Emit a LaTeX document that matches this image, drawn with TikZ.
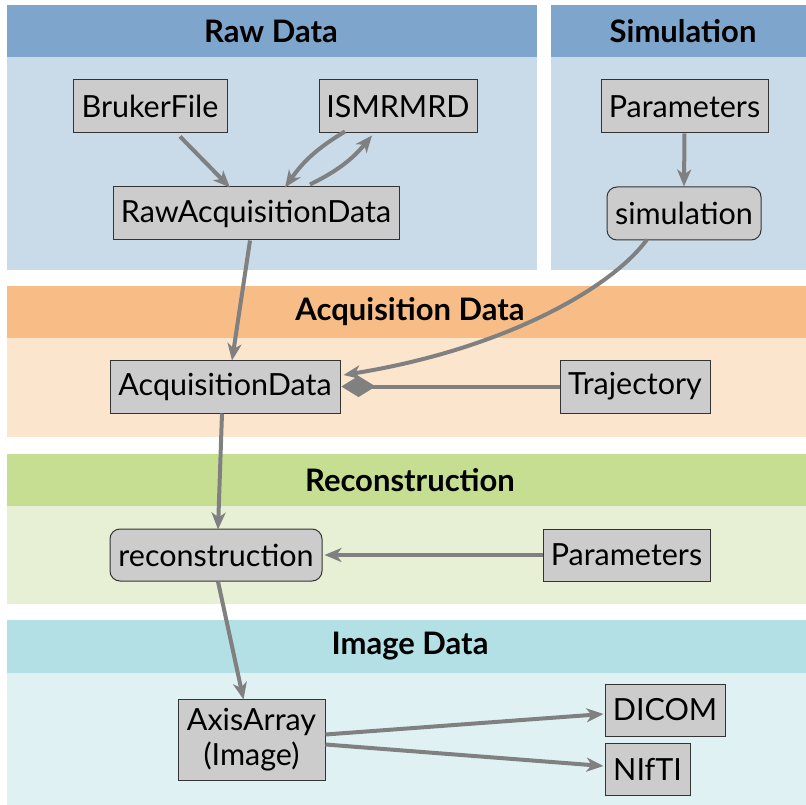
\documentclass[tikz,border=0pt]{standalone}
\usepackage{fontspec}
\setmainfont{Lato}
\usetikzlibrary{arrows.meta,shapes.geometric}
\definecolor{rawH}{HTML}{7EA6CC}
\definecolor{rawB}{HTML}{C9DAE9}
\definecolor{acqH}{HTML}{F8BD86}
\definecolor{acqB}{HTML}{FCE5CD}
\definecolor{recH}{HTML}{C6DE92}
\definecolor{recB}{HTML}{E7F0D4}
\definecolor{imgH}{HTML}{B2E0E5}
\definecolor{imgB}{HTML}{E0F1F4}
\definecolor{nodeF}{HTML}{CCCCCC}
\definecolor{edgeC}{HTML}{808080}
\tikzset{
  box/.style={draw=black!80, fill=nodeF, line width=1pt, inner sep=0pt, font=\fontsize{30.5}{35}\selectfont, align=center},
  rbox/.style={box, rounded corners=10pt},
  htitle/.style={font=\fontsize{31}{36}\selectfont\bfseries},
  conn/.style={draw=edgeC, line width=4pt, -{Stealth[length=17pt,width=14pt,inset=5pt]}},
}
\begin{document}
\begin{tikzpicture}[x=1pt,y=-1pt]
\useasboundingbox (0,0) rectangle (806,805);
% panels
\fill[rawB] (7,5) rectangle (537,270);
\fill[rawH] (7,5) rectangle (537,57);
\fill[rawB] (551,5) rectangle (806,270);
\fill[rawH] (551,5) rectangle (806,57);
\fill[acqB] (7,286) rectangle (806,437);
\fill[acqH] (7,286) rectangle (806,338);
\fill[recB] (7,454) rectangle (806,604);
\fill[recH] (7,454) rectangle (806,506);
\fill[imgB] (7,620) rectangle (806,805);
\fill[imgH] (7,620) rectangle (806,673);
\node[htitle] (tRaw) at (271,31) {Raw Data};
\node[htitle] (tSim) at (683,31) {Simulation};
\node[htitle] (tAcq) at (410,312) {Acquisition Data};
\node[htitle] (tRec) at (410,480) {Reconstruction};
\node[htitle] (tImg) at (410,646) {Image Data};
% nodes
\node[box, minimum width=154pt, minimum height=53pt] (bruker) at (150,106.5) {BrukerFile};
\node[box, minimum width=158pt, minimum height=53pt] (ismrmrd) at (398,106.5) {ISMRMRD};
\node[box, minimum width=286pt, minimum height=53pt] (raw) at (256,213.5) {RawAcquisitionData};
\node[box, minimum width=167pt, minimum height=53pt] (simpar) at (684.5,106.5) {Parameters};
\node[rbox, minimum width=154pt, minimum height=53pt] (sim) at (684,213.5) {simulation};
\node[box, minimum width=230pt, minimum height=53pt] (acq) at (225,386.5) {AcquisitionData};
\node[box, minimum width=150pt, minimum height=53pt] (traj) at (635,386.5) {Trajectory};
\node[rbox, minimum width=212pt, minimum height=52pt] (rec) at (216,555) {reconstruction};
\node[box, minimum width=167pt, minimum height=52pt] (recpar) at (626.5,555) {Parameters};
\node[box, minimum width=147pt, minimum height=81pt] (img) at (251.5,739.5) {AxisArray\\(Image)};
\node[box, minimum width=120pt, minimum height=52pt] (dicom) at (665,710) {DICOM};
\node[box, minimum width=85pt, minimum height=52pt] (nifti) at (647.5,769) {NIfTI};
% connectors
\draw[conn] ([xshift=30pt,yshift=-3pt]bruker.south) -- ([xshift=-26pt,yshift=-1pt]raw.north);
\draw[conn] ([xshift=-53pt,yshift=2pt]ismrmrd.south) to[bend right=12] ([xshift=29pt,yshift=-1pt]raw.north);
\draw[conn] ([xshift=54pt,yshift=2pt]raw.north) to[bend right=12] ([xshift=-26pt,yshift=-2pt]ismrmrd.south);
\draw[conn] (simpar.south) -- (sim.north);
\draw[conn] ([xshift=-6pt]raw.south) -- ([xshift=7pt,yshift=-1pt]acq.north);
\draw[conn] ([xshift=-37pt,yshift=1pt]sim.south) .. controls (610,290) and (500,350) .. ([xshift=3pt,yshift=11.5pt]acq.east);
\draw[draw=edgeC, line width=4pt, -{Diamond[length=34pt,width=21pt,line width=0.1pt,fill=edgeC]}] (traj.west) -- ([xshift=1pt]acq.east);
\draw[conn] ([xshift=-3pt]acq.south) -- ([xshift=2pt,yshift=-1pt]rec.north);
\draw[conn] (recpar.west) -- ([xshift=2pt]rec.east);
\draw[conn] ([xshift=2pt]rec.south) -- ([xshift=-8pt,yshift=-1pt]img.north);
\draw[conn] ([yshift=5pt]img.east) -- ([yshift=-4pt,xshift=-1pt]dicom.west);
\draw[conn] ([yshift=-5pt]img.east) -- ([yshift=3pt,xshift=-1pt]nifti.west);
\end{tikzpicture}
\end{document}
